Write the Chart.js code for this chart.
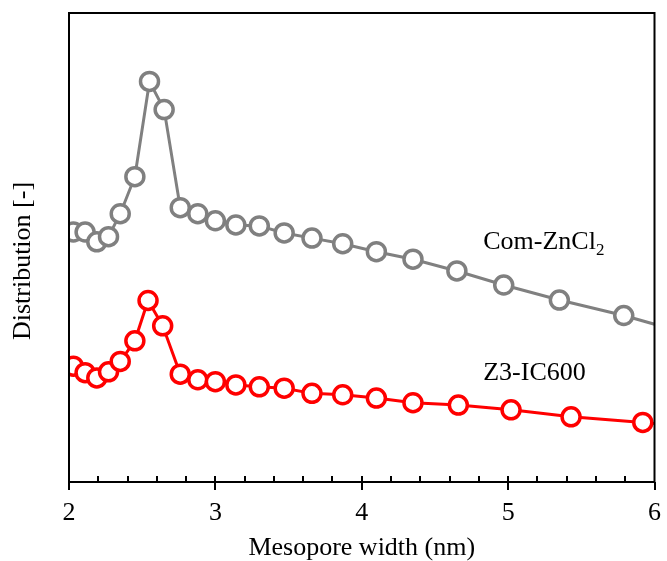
<!DOCTYPE html>
<html>
<head>
<meta charset="utf-8">
<script src="https://cdn.jsdelivr.net/npm/chart.js@4/dist/chart.umd.min.js"></script>
<style>
  html, body { margin: 0; padding: 0; background: #fff; }
  #wrap { width: 667px; height: 561px; position: relative; }
</style>
</head>
<body>
<div id="wrap"><canvas id="psd"></canvas></div>
<script>
/* Mesopore size distribution, two carbons
   - gray: Com-ZnCl2, red: Z3-IC600
   - y is a relative distribution, no scale shown */

// Com-ZnCl2 (gray)
const comWidth = [2.03, 2.11, 2.19, 2.27, 2.35, 2.45, 2.55, 2.65, 2.76, 2.88, 3.00, 3.14, 3.30, 3.47,
                  3.66, 3.87, 4.10, 4.35, 4.65, 4.97, 5.35, 5.79, 6.30];
const comDist  = [53.3, 53.3, 51.2, 52.3, 57.2, 65.1, 85.4, 79.4, 58.5, 57.2, 55.7, 54.8, 54.6, 53.1,
                  52.0, 50.8, 49.1, 47.5, 45.0, 42.0, 38.8, 35.5, 31.0];

// Z3-IC600 (red)
const z3Width = [2.03, 2.11, 2.19, 2.27, 2.35, 2.45, 2.54, 2.64, 2.76, 2.88, 3.00, 3.14, 3.30, 3.47,
                 3.66, 3.87, 4.10, 4.35, 4.66, 5.02, 5.43, 5.92, 6.40];
const z3Dist  = [24.7, 23.3, 22.2, 23.5, 25.7, 30.1, 38.7, 33.3, 23.0, 21.8, 21.4, 20.7, 20.3, 20.0,
                 18.9, 18.6, 17.9, 16.9, 16.4, 15.4, 13.9, 12.7, 11.4];

const xTicks = [2, 3, 4, 5, 6];

const FONT = "'Liberation Serif', 'Times New Roman', serif";
const GRAY = "#808080";
const RED = "#ff0000";

function toPoints(xs, ys) {
  return xs.map((x, i) => ({ x: x, y: ys[i] }));
}

// frame, inner minor ticks, y title and series labels
const decor = {
  id: "decor",
  afterDraw(chart) {
    const { ctx, chartArea: a, scales } = chart;
    const xs = scales.x, ys = scales.y;
    ctx.save();

    // inward ticks every 0.2 nm
    ctx.strokeStyle = "#000";
    ctx.lineWidth = 2;
    ctx.beginPath();
    for (let i = 1; i < 20; i++) {
      const px = Math.round(xs.getPixelForValue(2 + i * 0.2));
      ctx.moveTo(px, a.bottom);
      ctx.lineTo(px, a.bottom - 6);
    }
    ctx.stroke();

    // plot frame
    ctx.strokeRect(a.left, a.top, a.right - a.left, a.bottom - a.top);

    // y axis title
    ctx.fillStyle = "#000";
    ctx.font = "26px " + FONT;
    ctx.textAlign = "center";
    ctx.textBaseline = "middle";
    ctx.translate(23, 261);
    ctx.rotate(-Math.PI / 2);
    ctx.fillText("Distribution [-]", 0, 0);
    ctx.setTransform(1, 0, 0, 1, 0, 0);

    // series labels
    ctx.textAlign = "left";
    ctx.textBaseline = "alphabetic";
    const lx = xs.getPixelForValue(4.83);
    const main = "Com-ZnCl";
    ctx.font = "26px " + FONT;
    const y1 = ys.getPixelForValue(49.6);
    ctx.fillText(main, lx, y1);
    const w = ctx.measureText(main).width;
    ctx.font = "17px " + FONT;
    ctx.fillText("2", lx + w, y1 + 6);

    ctx.font = "26px " + FONT;
    ctx.fillText("Z3-IC600", lx, ys.getPixelForValue(21.8));

    ctx.restore();
  }
};

const pointStyle = (color) => ({
  borderColor: color,
  backgroundColor: "#fff",
  borderWidth: 3,
  pointRadius: 9,
  pointBorderWidth: 3.5,
  pointBackgroundColor: "#fff",
  pointBorderColor: color,
  tension: 0,
});

new Chart(document.getElementById("psd"), {
  type: "line",
  data: {
    datasets: [
      Object.assign({ label: "Com-ZnCl2", data: toPoints(comWidth, comDist) }, pointStyle(GRAY)),
      Object.assign({ label: "Z3-IC600", data: toPoints(z3Width, z3Dist) }, pointStyle(RED)),
    ],
  },
  options: {
    responsive: true,
    maintainAspectRatio: false,
    animation: false,
    layout: { padding: { top: 13, right: 9, left: 0, bottom: 0 } },
    plugins: { legend: { display: false }, tooltip: { enabled: false } },
    scales: {
      x: {
        type: "linear",
        min: 2,
        max: 6,
        afterFit: (s) => { s.height = 79; s.paddingLeft = 0; s.paddingRight = 0; },
        afterBuildTicks: (s) => { s.ticks = xTicks.map((v) => ({ value: v })); },
        border: { display: false },
        grid: { drawOnChartArea: false, color: "#000", lineWidth: 2, tickLength: 8 },
        ticks: { color: "#000", font: { family: FONT, size: 26 }, padding: 8 },
        title: {
          display: true,
          text: "Mesopore width (nm)",
          color: "#000",
          font: { family: FONT, size: 26, lineHeight: 1 },
          padding: { top: 0, bottom: 0 },
        },
      },
      y: {
        min: 0,
        max: 100,
        afterFit: (s) => { s.width = 69; },
        border: { display: false },
        grid: { display: false },
        ticks: { display: false },
      },
    },
  },
  plugins: [decor],
});
</script>
</body>
</html>
